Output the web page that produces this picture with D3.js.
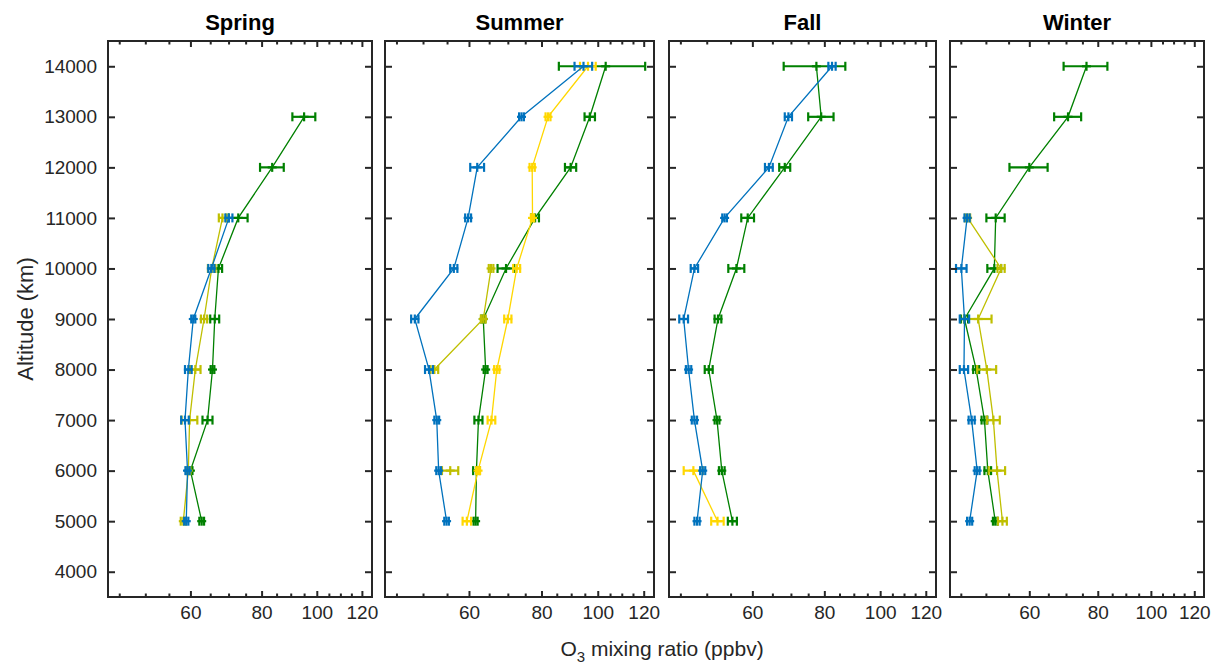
<!DOCTYPE html>
<html>
<head>
<meta charset="utf-8">
<script src="https://cdn.jsdelivr.net/npm/d3@7"></script>
<style>
body { margin: 0; background: #fff; }
svg { font-family: Arial, "Liberation Sans", Helvetica, sans-serif; }
</style>
</head>
<body>
<div id="chart"></div>
<script>
// altitude levels (m) shared by all panels
const altitudes = [5000, 6000, 7000, 8000, 9000, 10000, 11000, 12000, 13000, 14000];
const seasons = ["Spring", "Summer", "Fall", "Winter"];
const xMajorTicks = [60, 80, 100, 120];
const xMinorTicks = [45, 50, 55, 65, 70, 75, 85, 90, 95, 105, 110, 115];
const yTicks = [4000, 5000, 6000, 7000, 8000, 9000, 10000, 11000, 12000, 13000, 14000];

// O3 means and error half widths, one entry per altitude (null = no data)
const springGreen = [62.8, 60.0, 64.3, 65.6, 66.2, 67.2, 72.8, 83.5, 95.0, null];
const springGreenErr = [0.6, 0.5, 1.3, 0.5, 1.2, 1.0, 2.8, 4.0, 4.4, null];
const springOlive = [58.3, 59.5, 59.8, 61.2, 63.4, 65.4, 68.3, null, null, null];
const springOliveErr = [0.6, 0.5, 1.9, 1.3, 0.8, 1.0, 1.0, null, null, null];
const springBlue = [59.0, 59.3, 58.7, 59.5, 60.7, 65.3, 70.1, null, null, null];
const springBlueErr = [0.5, 0.5, 0.9, 0.8, 0.5, 0.8, 1.0, null, null, null];

const summerGreen = [61.6, 61.8, 62.3, 64.1, 63.5, 69.5, 78.0, 89.8, 96.9, 103.2];
const summerGreenErr = [0.5, 0.8, 1.0, 0.5, 0.5, 2.3, 1.2, 2.0, 2.0, 17.5];
const summerOlive = [null, 55.7, null, 52.3, 63.5, 65.5, null, null, null, null];
const summerOliveErr = [null, 1.8, null, 0.8, 0.6, 0.6, null, null, null, null];
const summerGold = [59.5, 62.2, 65.6, 67.0, 70.0, 72.5, 77.2, 77.1, 82.1, 96.2];
const summerGoldErr = [1.0, 0.5, 1.0, 0.7, 1.0, 1.0, 0.5, 0.8, 0.8, 3.0];
const summerBlue = [54.9, 53.2, 52.8, 51.2, 48.4, 56.5, 59.8, 62.0, 73.9, 94.5];
const summerBlueErr = [0.5, 0.5, 0.5, 0.8, 0.7, 0.8, 0.7, 1.7, 0.7, 3.3];

const fallGreen = [55.4, 53.1, 52.1, 50.4, 52.3, 56.3, 58.9, 68.3, 79.0, 77.5];
const fallGreenErr = [1.0, 0.6, 0.5, 0.8, 0.7, 1.8, 1.5, 1.5, 4.0, 9.5];
const fallGold = [52.2, 47.4, null, null, null, null, null, null, null, null];
const fallGoldErr = [1.3, 1.8, null, null, null, null, null, null, null, null];
const fallBlue = [48.1, 49.2, 47.6, 46.5, 45.6, 47.6, 53.7, 64.1, 69.3, 82.5];
const fallBlueErr = [0.5, 0.5, 0.5, 0.5, 0.8, 0.7, 0.5, 1.0, 1.0, 1.2];

const winterGreen = [52.0, 50.4, 49.7, 48.0, 45.7, 51.8, 52.1, 60.0, 70.6, 76.3];
const winterGreenErr = [0.5, 0.7, 0.6, 0.6, 0.7, 1.5, 2.0, 4.8, 4.0, 7.0];
const winterOlive = [53.6, 52.4, 51.6, 50.2, 48.4, 53.3, 46.3, null, null, null];
const winterOliveErr = [1.0, 1.8, 1.4, 2.0, 2.8, 0.8, 0.5, null, null, null];
const winterBlue = [46.7, 48.2, 47.1, 45.6, 45.7, 45.1, 46.2, null, null, null];
const winterBlueErr = [0.5, 0.5, 0.6, 0.8, 0.9, 1.0, 0.5, null, null, null];

const green = "#008000", olive = "#BFBF00", gold = "#FFD700", blue = "#0072BD";

const panels = [
    [[springGreen, springGreenErr, green], [springOlive, springOliveErr, olive], [springBlue, springBlueErr, blue]],
    [[summerGreen, summerGreenErr, green], [summerOlive, summerOliveErr, olive], [summerGold, summerGoldErr, gold], [summerBlue, summerBlueErr, blue]],
    [[fallGreen, fallGreenErr, green], [fallGold, fallGoldErr, gold], [fallBlue, fallBlueErr, blue]],
    [[winterGreen, winterGreenErr, green], [winterOlive, winterOliveErr, olive], [winterBlue, winterBlueErr, blue]]
];

const width = 1212, height = 664;
const plotTop = 41, plotBottom = 597;
const panelLeft = [108, 385, 669, 950];
const panelWidth = [264, 269, 267, 254];
const axisColor = "#262626";

const svg = d3.select("#chart").append("svg")
    .attr("width", width)
    .attr("height", height);

const y = d3.scaleLinear().domain([3500, 14500]).range([plotBottom, plotTop]);

seasons.forEach((season, i) => {
    const x = d3.scaleLog().domain([43, 125]).range([panelLeft[i], panelLeft[i] + panelWidth[i]]);
    const g = svg.append("g");

    // data: connecting lines and error bars
    panels[i].forEach(([vals, errs, color]) => {
        const pts = altitudes.map((alt, k) => ({ alt: alt, v: vals[k], e: errs[k] }));
        const line = d3.line()
            .defined(d => d.v !== null)
            .x(d => x(d.v))
            .y(d => y(d.alt));

        g.append("path")
            .datum(pts)
            .attr("fill", "none")
            .attr("stroke", color)
            .attr("stroke-width", 1.3)
            .attr("d", line);

        const bars = g.append("g")
            .attr("stroke", color)
            .attr("stroke-width", 2.2)
            .attr("fill", "none")
            .selectAll("g")
            .data(pts.filter(d => d.v !== null))
            .enter()
            .append("g");

        bars.append("line")
            .attr("x1", d => x(d.v - d.e))
            .attr("x2", d => x(d.v + d.e))
            .attr("y1", d => y(d.alt))
            .attr("y2", d => y(d.alt));
        [-1, 1].forEach(sign => {
            bars.append("line")
                .attr("x1", d => x(d.v + sign * d.e))
                .attr("x2", d => x(d.v + sign * d.e))
                .attr("y1", d => y(d.alt) - 4.5)
                .attr("y2", d => y(d.alt) + 4.5);
        });
        // '+' marker
        bars.append("line")
            .attr("x1", d => x(d.v))
            .attr("x2", d => x(d.v))
            .attr("y1", d => y(d.alt) - 4.5)
            .attr("y2", d => y(d.alt) + 4.5);
        bars.append("line")
            .attr("x1", d => x(d.v) - 4.5)
            .attr("x2", d => x(d.v) + 4.5)
            .attr("y1", d => y(d.alt))
            .attr("y2", d => y(d.alt));
    });

    // axes (ticks pointing inward)
    g.append("g")
        .attr("transform", `translate(0,${plotBottom})`)
        .call(d3.axisBottom(x).tickValues(xMajorTicks).tickFormat(d3.format("d"))
            .tickSizeInner(-6).tickSizeOuter(0).tickPadding(9));
    g.append("g")
        .attr("transform", `translate(0,${plotBottom})`)
        .call(d3.axisBottom(x).tickValues(xMinorTicks).tickFormat("")
            .tickSizeInner(-3.5).tickSizeOuter(0));
    g.append("g")
        .attr("transform", `translate(0,${plotTop})`)
        .call(d3.axisTop(x).tickValues(xMajorTicks).tickFormat("")
            .tickSizeInner(-6).tickSizeOuter(0));
    g.append("g")
        .attr("transform", `translate(0,${plotTop})`)
        .call(d3.axisTop(x).tickValues(xMinorTicks).tickFormat("")
            .tickSizeInner(-3.5).tickSizeOuter(0));
    g.append("g")
        .attr("transform", `translate(${panelLeft[i]},0)`)
        .call(d3.axisLeft(y).tickValues(yTicks).tickFormat(i === 0 ? d3.format("d") : "")
            .tickSizeInner(-7).tickSizeOuter(0).tickPadding(11));
    g.append("g")
        .attr("transform", `translate(${panelLeft[i] + panelWidth[i]},0)`)
        .call(d3.axisRight(y).tickValues(yTicks).tickFormat("")
            .tickSizeInner(-7).tickSizeOuter(0));

    g.selectAll(".domain").remove();
    g.selectAll(".tick line").attr("stroke", axisColor).attr("stroke-width", 2);
    g.selectAll(".tick text")
        .attr("fill", axisColor)
        .style("font-size", "19px")
        .style("font-family", "Arial, 'Liberation Sans', Helvetica, sans-serif");

    g.append("rect")
        .attr("x", panelLeft[i])
        .attr("y", plotTop)
        .attr("width", panelWidth[i])
        .attr("height", plotBottom - plotTop)
        .attr("fill", "none")
        .attr("stroke", axisColor)
        .attr("stroke-width", 2);

    svg.append("text")
        .attr("x", panelLeft[i] + panelWidth[i] / 2)
        .attr("y", 30)
        .attr("text-anchor", "middle")
        .style("font-size", "22px")
        .style("font-weight", "bold")
        .attr("fill", "#000")
        .text(season);
});

const xLabel = svg.append("text")
    .attr("x", 662)
    .attr("y", 656)
    .attr("text-anchor", "middle")
    .attr("fill", axisColor)
    .style("font-size", "21px");
xLabel.append("tspan").text("O");
xLabel.append("tspan").attr("dy", 6).style("font-size", "15px").text("3");
xLabel.append("tspan").attr("dy", -6).text(" mixing ratio (ppbv)");

svg.append("text")
    .attr("transform", "translate(33,319) rotate(-90)")
    .attr("text-anchor", "middle")
    .attr("fill", axisColor)
    .style("font-size", "22px")
    .text("Altitude (km)");
</script>
</body>
</html>
